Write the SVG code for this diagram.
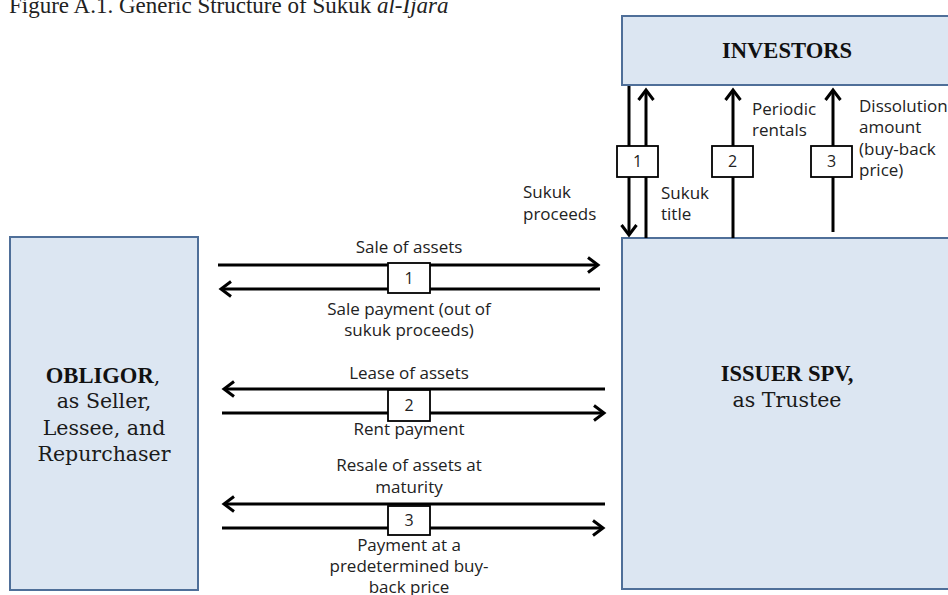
<svg xmlns="http://www.w3.org/2000/svg" width="948" height="595" viewBox="0 0 948 595">
  <style>
    .party { fill: #dce6f2; stroke: #4f6f99; stroke-width: 2; }
    .bold { font-family: "Liberation Serif", serif; font-weight: bold; font-size: 22.6px; fill: #111; text-anchor: middle; }
    .role { font-family: "DejaVu Serif", serif; font-size: 20.5px; fill: #1a1a1a; text-anchor: middle; }
    .lbl { font-family: "Open Sans", "Liberation Sans", sans-serif; font-size: 17px; fill: #222; }
    .mid { text-anchor: middle; }
    .flow { stroke: #000; stroke-width: 3; fill: none; marker-end: url(#chev); }
    .step { fill: #fff; stroke: #000; stroke-width: 1.8; }
    .num { font-family: "Open Sans", "Liberation Sans", sans-serif; font-size: 16px; fill: #222; text-anchor: middle; }
    .title { font-family: "Liberation Serif", serif; font-size: 23px; fill: #222; }
  </style>
  <defs>
    <!-- open chevron arrowhead, drawn in user units -->
    <marker id="chev" markerUnits="userSpaceOnUse" viewBox="-14 -10 16 20" markerWidth="16" markerHeight="20" refX="0" refY="0" orient="auto" overflow="visible">
      <path d="M-10,-7.5 L0,0 L-10,7.5" fill="none" stroke="#000" stroke-width="3" stroke-linejoin="miter"/>
    </marker>
  </defs>

  <rect width="948" height="595" fill="#fff"/>

  <text class="title" x="9" y="13">Figure A.1. Generic Structure of Sukuk <tspan font-style="italic">al-Ijara</tspan></text>

  <g id="investors">
    <rect class="party" x="622" y="16" width="330" height="69"/>
    <text class="bold" x="787" y="58">INVESTORS</text>
  </g>

  <g id="obligor">
    <rect class="party" x="10" y="237" width="188" height="353"/>
    <text class="bold" x="103" y="383">OBLIGOR<tspan font-weight="normal" font-family="DejaVu Serif, serif" font-size="20.5px">,</tspan></text>
    <text class="role" x="104" y="408">as Seller,</text>
    <text class="role" x="104" y="435">Lessee, and</text>
    <text class="role" x="104" y="461">Repurchaser</text>
  </g>

  <g id="issuer">
    <rect class="party" x="622" y="238" width="330" height="351"/>
    <text class="bold" x="787" y="381">ISSUER SPV,</text>
    <text class="role" x="787" y="407">as Trustee</text>
  </g>

  <g id="connectors">
    <!-- investors / issuer -->
    <line class="flow" x1="629" y1="86" x2="629" y2="235"/>
    <line class="flow" x1="646" y1="238" x2="646" y2="90"/>
    <line class="flow" x1="733" y1="238" x2="733" y2="90"/>
    <line class="flow" x1="833" y1="232" x2="833" y2="90"/>
    <!-- step 1 -->
    <line class="flow" x1="218" y1="265" x2="598" y2="265"/>
    <line class="flow" x1="600" y1="289" x2="221" y2="289"/>
    <!-- step 2 -->
    <line class="flow" x1="605" y1="389" x2="224" y2="389"/>
    <line class="flow" x1="222" y1="413" x2="604" y2="413"/>
    <!-- step 3 -->
    <line class="flow" x1="605" y1="504" x2="224" y2="504"/>
    <line class="flow" x1="222" y1="528" x2="603" y2="528"/>

    <!-- step markers -->
    <rect class="step" x="617" y="146" width="41" height="31"/>
    <text class="num" x="637.5" y="167">1</text>
    <rect class="step" x="712" y="146" width="41" height="31"/>
    <text class="num" x="732.5" y="167">2</text>
    <rect class="step" x="811" y="146" width="41" height="31"/>
    <text class="num" x="831.5" y="167">3</text>

    <rect class="step" x="388" y="263" width="42" height="30"/>
    <text class="num" x="409" y="284">1</text>
    <rect class="step" x="388" y="390" width="42" height="31"/>
    <text class="num" x="409" y="411">2</text>
    <rect class="step" x="388" y="506" width="42" height="29"/>
    <text class="num" x="409" y="526">3</text>

    <!-- labels -->
    <text class="lbl" x="523" y="198">Sukuk</text>
    <text class="lbl" x="523" y="220">proceeds</text>
    <text class="lbl" x="661" y="199">Sukuk</text>
    <text class="lbl" x="661" y="220">title</text>
    <text class="lbl" x="752" y="115">Periodic</text>
    <text class="lbl" x="752" y="136">rentals</text>
    <text class="lbl" x="859" y="112">Dissolution</text>
    <text class="lbl" x="859" y="133">amount</text>
    <text class="lbl" x="859" y="155">(buy-back</text>
    <text class="lbl" x="859" y="176">price)</text>

    <text class="lbl mid" x="409" y="253">Sale of assets</text>
    <text class="lbl mid" x="409" y="315">Sale payment (out of</text>
    <text class="lbl mid" x="409" y="336">sukuk proceeds)</text>
    <text class="lbl mid" x="409" y="379">Lease of assets</text>
    <text class="lbl mid" x="409" y="435">Rent payment</text>
    <text class="lbl mid" x="409" y="471">Resale of assets at</text>
    <text class="lbl mid" x="409" y="493">maturity</text>
    <text class="lbl mid" x="409" y="551">Payment at a</text>
    <text class="lbl mid" x="409" y="572">predetermined buy-</text>
    <text class="lbl mid" x="409" y="593">back price</text>
  </g>
</svg>
